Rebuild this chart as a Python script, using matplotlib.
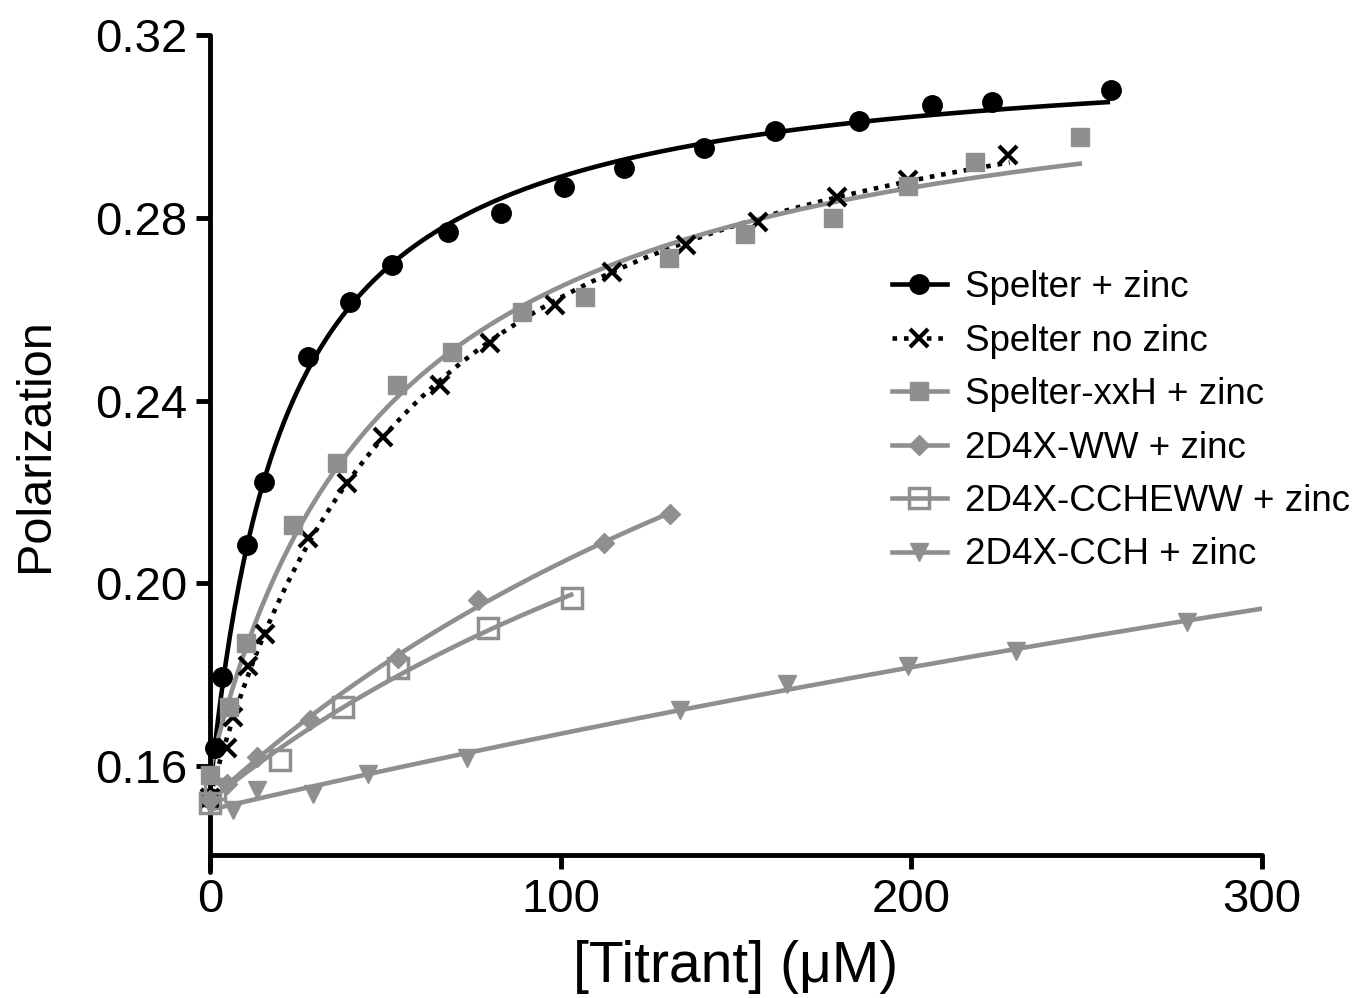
# Fluorescence polarization titration of Spelter variants, with hyperbolic
# binding fits drawn through each set of points.

import numpy as np
import matplotlib
matplotlib.use('Agg')
import matplotlib.pyplot as plt

plt.rcParams['font.family'] = ['Liberation Sans', 'DejaVu Sans']

# data: [Titrant] (uM) vs polarization
spelter_zinc_x = [0, 1.5, 3.5, 10.5, 15.5, 28, 40, 52, 68, 83, 101, 118, 141, 161, 185, 206, 223, 257]
spelter_zinc_y = [0.153, 0.164, 0.1795, 0.2085, 0.2222, 0.2495, 0.2615, 0.2697, 0.2768, 0.281,
                  0.2867, 0.2908, 0.2952, 0.2990, 0.3012, 0.3046, 0.3053, 0.3080]

spelter_nozinc_x = [0, 4.8, 6.6, 10.8, 15.7, 28, 39, 49.3, 65.6, 79.8, 98.4, 114.6, 135.7, 156.3, 178.8, 199, 227.5]
spelter_nozinc_y = [0.153, 0.164, 0.1707, 0.182, 0.189, 0.210, 0.222, 0.232, 0.2434, 0.2526,
                    0.2609, 0.2681, 0.274, 0.279, 0.2845, 0.2883, 0.2937]

xxh_x = [0, 5.4, 10.3, 23.7, 36.2, 53.3, 69, 89, 107, 131, 152.5, 177.6, 199, 218, 248]
xxh_y = [0.158, 0.173, 0.187, 0.2127, 0.2263, 0.2434, 0.2506, 0.2594, 0.2627, 0.2712,
         0.2764, 0.2799, 0.2869, 0.2922, 0.2977]

ww_x = [0, 5, 13.4, 28.5, 53.6, 76.4, 112.3, 131.2]
ww_y = [0.1525, 0.156, 0.162, 0.170, 0.1836, 0.1963, 0.2088, 0.2152]

ccheww_x = [0, 1.5, 20, 38, 53.6, 79.3, 103.2]
ccheww_y = [0.152, 0.155, 0.1613, 0.1729, 0.1814, 0.1902, 0.1968]

cch_x = [0, 6.6, 13.4, 29.4, 45, 73.3, 134, 164.5, 199, 229.8, 278.6]
cch_y = [0.1515, 0.1504, 0.1547, 0.1540, 0.1583, 0.1618, 0.1722, 0.1780, 0.1820, 0.1852, 0.1915]

labels = ['Spelter + zinc', 'Spelter no zinc', 'Spelter-xxH + zinc',
          '2D4X-WW + zinc', '2D4X-CCHEWW + zinc', '2D4X-CCH + zinc']
fit_end = [256, 228, 248, 131, 103, 300]

BLACK = 'black'
GRAY = '#8f8f8f'


def fit_binding(x, y):
    # y = y0 + Bmax * x / (Kd + x), grid over Kd, linear least squares for the rest
    x = np.asarray(x, float)
    y = np.asarray(y, float)
    best = None
    for kd in np.logspace(0, 4, 3000):
        A = np.column_stack([np.ones_like(x), x / (kd + x)])
        coef, res, _, _ = np.linalg.lstsq(A, y, rcond=None)
        err = np.sum((A @ coef - y) ** 2)
        if best is None or err < best[0]:
            best = (err, kd, coef)
    return best[1], best[2]


def main():
    fig = plt.figure(figsize=(13.63, 9.98), dpi=100)
    ax = fig.add_axes([0.154, 0.143, 0.772, 0.822])

    series = [
        (spelter_zinc_x, spelter_zinc_y, dict(color=BLACK, marker='o', ms=14, ls='-')),
        (spelter_nozinc_x, spelter_nozinc_y, dict(color=BLACK, marker='x', ms=13, mew=3, ls=(0, (1, 1.5)))),
        (xxh_x, xxh_y, dict(color=GRAY, marker='s', ms=13, ls='-')),
        (ww_x, ww_y, dict(color=GRAY, marker='D', ms=10.5, ls='-')),
        (ccheww_x, ccheww_y, dict(color=GRAY, marker='s', ms=15, mew=2.5, mfc='none', ls='-')),
        (cch_x, cch_y, dict(color=GRAY, marker='v', ms=13, ls='-')),
    ]

    for (x, y, style), label, xend in zip(series, labels, fit_end):
        kd, (y0, bmax) = fit_binding(x, y)
        xs = np.linspace(0, xend, 400)
        ys = y0 + bmax * xs / (kd + xs)
        ls = style.pop('ls')
        ax.plot(xs, ys, color=style['color'], ls=ls, lw=3.3, zorder=2)
        ax.plot(x, y, ls='none', zorder=3, clip_on=False, **style)
        # legend proxy: line with marker
        ax.plot([], [], ls=ls, lw=3.3, label=label, **style)

    ax.set_xlim(0, 300)
    ax.set_ylim(0.1405, 0.32)
    ax.set_xticks([0, 100, 200, 300])
    ax.set_yticks([0.16, 0.20, 0.24, 0.28, 0.32])
    ax.set_yticklabels(['0.16', '0.20', '0.24', '0.28', '0.32'])

    for side in ['top', 'right']:
        ax.spines[side].set_visible(False)
    for side in ['left', 'bottom']:
        ax.spines[side].set_linewidth(3.5)
        ax.spines[side].set_capstyle('round')
    # left axis runs a little past the x axis, as in the original
    ax.spines['left'].set_bounds(0.1368, 0.32)
    ax.tick_params(axis='both', direction='out', length=10, width=3.5, labelsize=34, pad=6)

    ax.set_xlabel('[Titrant] (\u03bcM)', fontsize=41, labelpad=13)
    ax.set_ylabel('Polarization', fontsize=35, labelpad=27)

    ax.legend(loc='upper left', bbox_to_anchor=(0.648, 0.713), frameon=False, fontsize=26.5,
              handlelength=1.5, handletextpad=0.5, labelspacing=0.5, borderaxespad=0,
              borderpad=0)

    fig.savefig('out.png', dpi=100)


if __name__ == "__main__":
    main()
